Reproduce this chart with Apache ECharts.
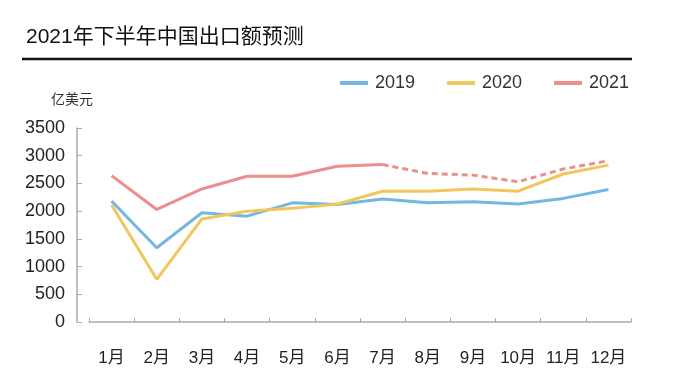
<!DOCTYPE html>
<html>
<head>
<meta charset="utf-8">
<script src="https://cdn.jsdelivr.net/npm/echarts@6/dist/echarts.min.js"></script>
<style>
html,body{margin:0;padding:0;background:#fff;}
#main{width:673px;height:383px;}
</style>
</head>
<body>
<div id="main"></div>
<script>
const months = ['1月','2月','3月','4月','5月','6月','7月','8月','9月','10月','11月','12月'];
const values2019 = [2180, 1340, 1970, 1910, 2150, 2120, 2220, 2150, 2170, 2130, 2230, 2390];
const values2020 = [2110, 770, 1860, 2000, 2050, 2130, 2360, 2360, 2400, 2360, 2670, 2830];
const values2021 = [2640, 2030, 2400, 2630, 2630, 2810, 2840, 2680, 2650, 2530, 2760, 2910];
const forecastStartIndex = 6; // 7月 onward is forecast
const legendNames = ['2019', '2020', '2021'];
const yTicks = [0, 500, 1000, 1500, 2000, 2500, 3000, 3500];

const actual2021 = values2021.map((v, i) => i <= forecastStartIndex ? v : '-');
const forecast2021 = values2021.map((v, i) => i >= forecastStartIndex ? v : '-');

const cBlue = '#72b8e2', cYellow = '#f1c75c', cRed = '#ec8e8e';
const font = 'Liberation Sans, Arial, Noto Sans CJK SC, sans-serif';

const chart = echarts.init(document.getElementById('main'), null, {renderer: 'canvas'});
chart.setOption({
  animation: false,
  backgroundColor: '#fff',
  textStyle: {fontFamily: font},
  title: {
    text: '2021年下半年中国出口额预测',
    left: 21, top: 22,
    textStyle: {fontSize: 21, fontWeight: 'normal', color: '#111', fontFamily: font}
  },
  graphic: [{
    type: 'line',
    shape: {x1: 22, y1: 59, x2: 632, y2: 59},
    style: {stroke: '#111', lineWidth: 2.5}
  }],
  legend: {
    data: legendNames,
    left: 335, top: 69,
    itemWidth: 28, itemHeight: 4, itemGap: 32,
    icon: 'rect',
    textStyle: {fontSize: 18, color: '#333', fontFamily: font, padding: [0, 0, 0, 2]}
  },
  grid: {left: 89, right: 42, top: 128, bottom: 61, containLabel: false},
  xAxis: {
    type: 'category',
    data: months,
    boundaryGap: true,
    offset: 15,
    axisLine: {show: true, lineStyle: {color: '#aaa', width: 1.5}},
    axisTick: {show: true, inside: true, length: 4, alignWithLabel: false, lineStyle: {color: '#aaa'}},
    axisLabel: {fontSize: 17, color: '#222', margin: 13, fontFamily: font, interval: 0},
    splitLine: {show: false}
  },
  yAxis: {
    type: 'value',
    min: yTicks[0], max: yTicks[yTicks.length - 1], interval: 500,
    offset: 12,
    name: '亿美元',
    nameLocation: 'end',
    nameGap: 21,
    nameTextStyle: {fontSize: 14, color: '#333', align: 'center', padding: [0, 10, 0, 0], fontFamily: font},
    axisLine: {show: true, lineStyle: {color: '#aaa', width: 1.5}},
    axisTick: {show: true, inside: true, length: 5, lineStyle: {color: '#aaa'}},
    axisLabel: {fontSize: 18, color: '#222', margin: 12, fontFamily: font, formatter: v => String(v)},
    splitLine: {show: false}
  },
  series: [
    {name: '2019', type: 'line', data: values2019, symbol: 'none', color: cBlue,
     lineStyle: {width: 3, color: cBlue}},
    {name: '2020', type: 'line', data: values2020, symbol: 'none', color: cYellow,
     lineStyle: {width: 3, color: cYellow}},
    {name: '2021', type: 'line', data: actual2021, symbol: 'none', color: cRed,
     lineStyle: {width: 3, color: cRed}},
    {name: '2021', type: 'line', data: forecast2021, symbol: 'none', color: cRed,
     lineStyle: {width: 3, color: cRed, type: [6, 4]}}
  ]
});
</script>
</body>
</html>
